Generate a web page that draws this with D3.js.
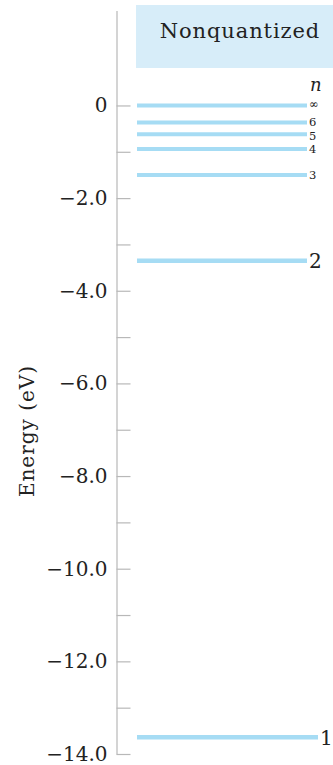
<!DOCTYPE html>
<html>
<head>
<meta charset="utf-8">
<script src="https://cdn.jsdelivr.net/npm/d3@7"></script>
<style>
  html, body { margin: 0; padding: 0; background: #fff; }
  svg { display: block; font-family: "DejaVu Serif", "Liberation Serif", serif; }
</style>
</head>
<body>
<svg id="chart" width="333" height="765"></svg>
<script>
// livelli energetici dell'atomo di idrogeno
const levelNames = ["∞", "6", "5", "4", "3", "2", "1"];
const levelEnergies = [0, -0.37, -0.62, -0.94, -1.50, -3.35, -13.64];
const tickValues = d3.range(0, -15, -1);
const tickLabels = ["0", "−2.0", "−4.0", "−6.0", "−8.0", "−10.0", "−12.0", "−14.0"];

const svg = d3.select("#chart");

/* scala verticale dell'energia */
const y = d3.scaleLinear()
    .domain([-14, 2.05])
    .range([754, 10.5]);

const axisX = 116.5;
const lineX0 = 137, lineX1 = 307;

/* riquadro "Nonquantized" */
svg.append("rect")
    .attr("x", 136).attr("y", 5)
    .attr("width", 197).attr("height", 63)
    .attr("fill", "#d7edf9");

svg.append("text")
    .attr("x", 240).attr("y", 38)
    .attr("text-anchor", "middle")
    .attr("font-size", 21)
    .attr("letter-spacing", 0.9)
    .attr("fill", "#222")
    .text("Nonquantized");

/* asse verticale */
const axis = d3.axisLeft(y)
    .tickValues(tickValues)
    .tickSizeInner(-14)
    .tickSizeOuter(0)
    .tickPadding(9)
    .tickFormat(d => d % 2 === 0 ? tickLabels[-d / 2] : "");

const gAxis = svg.append("g")
    .attr("transform", `translate(${axisX},0)`)
    .call(axis);

gAxis.select(".domain").attr("stroke", "#b8b8b8").attr("stroke-width", 1.2);
gAxis.selectAll(".tick line").attr("stroke", "#b8b8b8").attr("stroke-width", 1.2);
gAxis.selectAll(".tick text")
    .attr("font-family", "DejaVu Serif, serif")
    .attr("font-size", 20)
    .attr("fill", "#222");

/* titolo dell'asse */
svg.append("text")
    .attr("transform", `translate(34,431) rotate(-90)`)
    .attr("text-anchor", "middle")
    .attr("font-size", 20)
    .attr("letter-spacing", 1)
    .attr("fill", "#222")
    .text("Energy (eV)");

/* linee dei livelli */
svg.selectAll(".level")
    .data(levelEnergies)
    .enter()
    .append("line")
    .attr("class", "level")
    .attr("x1", lineX0)
    .attr("x2", (d, i) => i === 6 ? 318 : lineX1)
    .attr("y1", d => y(d))
    .attr("y2", d => y(d))
    .attr("stroke", "#a6dcf4")
    .attr("stroke-width", (d, i) => i >= 5 ? 4.5 : 4);

/* etichette dei livelli (6 e 5 leggermente separati) */
const labShift = [0, -1, 1.2, 0, 0, 0, 0];
svg.selectAll(".lab")
    .data(levelEnergies)
    .enter()
    .append("text")
    .attr("class", "lab")
    .attr("x", (d, i) => i === 6 ? 320 : 309)
    .attr("y", (d, i) => y(d) + labShift[i])
    .attr("dy", (d, i) => i === 0 ? "0.25em" : "0.36em")
    .attr("font-size", (d, i) => i >= 5 ? 20 : 11.5)
    .attr("fill", "#222")
    .text((d, i) => levelNames[i]);

svg.append("text")
    .attr("x", 310).attr("y", 91)
    .attr("font-size", 18)
    .attr("font-style", "italic")
    .attr("fill", "#222")
    .text("n");
</script>
</body>
</html>
